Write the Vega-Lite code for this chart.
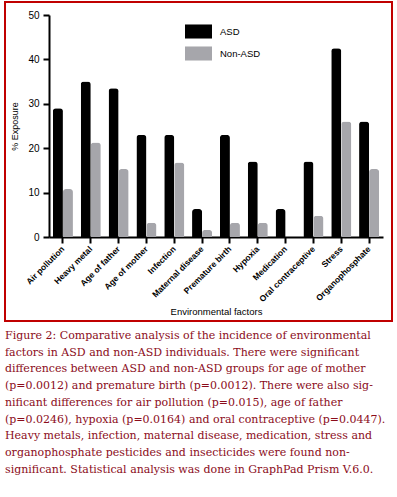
{
  "$schema": "https://vega.github.io/schema/vega-lite/v6.json",
  "width": 387,
  "height": 319,
  "padding": {"left": 5, "top": 2, "right": 5, "bottom": 5},
  "background": "white",
  "title": {
    "text": [
      "Figure 2: Comparative analysis of the incidence of environmental",
      "factors in ASD and non-ASD individuals. There were significant",
      "differences between ASD and non-ASD groups for age of mother",
      "(p=0.0012) and premature birth (p=0.0012). There were also sig-",
      "nificant differences for air pollution (p=0.015), age of father",
      "(p=0.0246), hypoxia (p=0.0164) and oral contraceptive (p=0.0447).",
      "Heavy metals, infection, maternal disease, medication, stress and",
      "organophosphate pesticides and insecticides were found non-",
      "significant. Statistical analysis was done in GraphPad Prism V.6.0."
    ],
    "orient": "bottom",
    "anchor": "start",
    "frame": "group",
    "font": "DejaVu Serif",
    "fontSize": 11,
    "fontWeight": "normal",
    "color": "#8b0c1a",
    "lineHeight": 16.7,
    "baseline": "top",
    "offset": 9
  },
  "data": {
    "values": [
      {"factor": "Air pollution", "group": "ASD", "value": 29},
      {"factor": "Air pollution", "group": "Non-ASD", "value": 10.8},
      {"factor": "Heavy metal", "group": "ASD", "value": 35},
      {"factor": "Heavy metal", "group": "Non-ASD", "value": 21.3},
      {"factor": "Age of father", "group": "ASD", "value": 33.5},
      {"factor": "Age of father", "group": "Non-ASD", "value": 15.3},
      {"factor": "Age of mother", "group": "ASD", "value": 23},
      {"factor": "Age of mother", "group": "Non-ASD", "value": 3.2},
      {"factor": "Infection", "group": "ASD", "value": 23},
      {"factor": "Infection", "group": "Non-ASD", "value": 16.8},
      {"factor": "Maternal disease", "group": "ASD", "value": 6.3},
      {"factor": "Maternal disease", "group": "Non-ASD", "value": 1.6},
      {"factor": "Premature birth", "group": "ASD", "value": 23},
      {"factor": "Premature birth", "group": "Non-ASD", "value": 3.2},
      {"factor": "Hypoxia", "group": "ASD", "value": 17},
      {"factor": "Hypoxia", "group": "Non-ASD", "value": 3.2},
      {"factor": "Medication", "group": "ASD", "value": 6.3},
      {"factor": "Medication", "group": "Non-ASD", "value": 0},
      {"factor": "Oral contraceptive", "group": "ASD", "value": 17},
      {"factor": "Oral contraceptive", "group": "Non-ASD", "value": 4.8},
      {"factor": "Stress", "group": "ASD", "value": 42.5},
      {"factor": "Stress", "group": "Non-ASD", "value": 26},
      {"factor": "Organophosphate", "group": "ASD", "value": 26},
      {"factor": "Organophosphate", "group": "Non-ASD", "value": 15.3}
    ]
  },
  "mark": {"type": "bar", "cornerRadiusTopLeft": 3, "cornerRadiusTopRight": 3},
  "encoding": {
    "x": {
      "field": "factor",
      "type": "nominal",
      "sort": null,
      "scale": {"range": [44, 378], "paddingInner": 0.28, "paddingOuter": 0.14},
      "axis": {
        "title": "Environmental factors",
        "offset": -84,
        "labelAngle": -45,
        "labelAlign": "right",
        "labelBaseline": "middle",
        "labelFont": "Liberation Sans",
        "labelFontSize": 8.5,
        "labelFontWeight": "bold",
        "labelColor": "#000000",
        "labelPadding": 4,
        "tickSize": 6,
        "tickWidth": 2,
        "tickColor": "#000000",
        "domainColor": "#000000",
        "domainWidth": 2,
        "titleFont": "Liberation Sans",
        "titleFontSize": 9.5,
        "titleFontWeight": "normal",
        "titleColor": "#000000",
        "titlePadding": 4
      }
    },
    "xOffset": {"field": "group", "type": "nominal", "sort": ["ASD", "Non-ASD"]},
    "y": {
      "field": "value",
      "type": "quantitative",
      "scale": {"domain": [0, 50], "range": [235, 13], "nice": false},
      "axis": {
        "title": "% Exposure",
        "offset": -44,
        "values": [0, 10, 20, 30, 40, 50],
        "grid": false,
        "labelFont": "Liberation Sans",
        "labelFontSize": 10,
        "labelColor": "#000000",
        "labelPadding": 4,
        "tickSize": 6,
        "tickWidth": 2,
        "tickColor": "#000000",
        "domainColor": "#000000",
        "domainWidth": 2,
        "titleFont": "Liberation Sans",
        "titleFontSize": 9,
        "titleFontWeight": "normal",
        "titleColor": "#000000",
        "titlePadding": 8
      }
    },
    "color": {
      "field": "group",
      "type": "nominal",
      "scale": {"domain": ["ASD", "Non-ASD"], "range": ["#000000", "#a6a6ab"]},
      "legend": {
        "title": null,
        "orient": "none",
        "legendX": 180,
        "legendY": 16,
        "padding": 0,
        "symbolType": "M-1,-0.52H1V0.52H-1Z",
        "symbolSize": 729,
        "symbolStrokeWidth": 0,
        "symbolOpacity": 1,
        "labelFont": "Liberation Sans",
        "labelFontSize": 9.5,
        "labelColor": "#000000",
        "labelOffset": 8,
        "rowPadding": 1
      }
    }
  },
  "config": {
    "view": {"stroke": "#c00000", "strokeWidth": 2},
    "axis": {"grid": false}
  }
}
